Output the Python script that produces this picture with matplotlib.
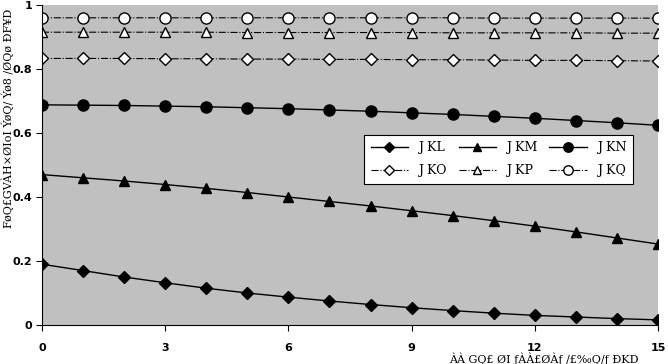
import matplotlib
matplotlib.use("Agg")
import matplotlib.pyplot as plt

# DATA
x = list(range(16))
s1 = [0.190, 0.170, 0.150, 0.132, 0.115, 0.100, 0.087, 0.075, 0.064, 0.054, 0.045, 0.037, 0.030, 0.025, 0.020, 0.016]
s2 = [0.470, 0.460, 0.450, 0.439, 0.427, 0.414, 0.400, 0.386, 0.372, 0.357, 0.342, 0.326, 0.309, 0.291, 0.272, 0.253]
s3 = [0.688, 0.687, 0.686, 0.684, 0.682, 0.679, 0.676, 0.672, 0.668, 0.663, 0.658, 0.652, 0.646, 0.639, 0.632, 0.624]
s4 = [0.833, 0.833, 0.833, 0.832, 0.832, 0.831, 0.831, 0.830, 0.830, 0.829, 0.829, 0.828, 0.827, 0.827, 0.826, 0.825]
s5 = [0.915, 0.915, 0.915, 0.915, 0.915, 0.914, 0.914, 0.914, 0.914, 0.914, 0.913, 0.913, 0.913, 0.913, 0.912, 0.912]
s6 = [0.960, 0.960, 0.960, 0.960, 0.960, 0.960, 0.960, 0.960, 0.960, 0.960, 0.960, 0.959, 0.959, 0.959, 0.959, 0.959]
labels = ["J KL", "J KM", "J KN", "J KO", "J KP", "J KQ"]
x_ticks = [0, 3, 6, 9, 12, 15]
y_ticks = [0, 0.2, 0.4, 0.6, 0.8, 1]
y_tick_labels = ["0", "0.2", "0.4", "0.6", "0.8", "1"]
x_label = "ÀÀ GQ£ ØI ƒÀÀ£ØÀƒ /£‰Q/ƒ ÐKD"
y_label = "FøQ£GVÀH×ØIoI ÝøQ/ Ýø8 /ØQø ÐF¥D"

fig = plt.figure(figsize=(6.68, 3.64), dpi=100)
ax = fig.add_axes([42 / 668, 39 / 364, 616 / 668, 320 / 364])
ax.set_facecolor("#c0c0c0")

ax.plot(x, s1, "-", color="black", lw=1, marker="D", ms=6, mfc="black", mec="black", label=labels[0])
ax.plot(x, s2, "-", color="black", lw=1, marker="^", ms=7, mfc="black", mec="black", label=labels[1])
ax.plot(x, s3, "-", color="black", lw=1, marker="o", ms=8, mfc="black", mec="black", label=labels[2])
ax.plot(x, s4, "-.", color="black", lw=0.8, marker="D", ms=6, mfc="white", mec="black", label=labels[3])
ax.plot(x, s5, "-.", color="black", lw=0.8, marker="^", ms=7, mfc="white", mec="black", label=labels[4])
ax.plot(x, s6, "-.", color="black", lw=0.8, marker="o", ms=8, mfc="white", mec="black", label=labels[5])

ax.set_xlim(0, 15)
ax.set_ylim(0, 1)
ax.set_xticks(x_ticks)
ax.set_xticklabels([str(t) for t in x_ticks], fontweight="bold", fontsize=8)
ax.set_yticks(y_ticks)
ax.set_yticklabels(y_tick_labels, fontweight="bold", fontsize=8)
ax.tick_params(axis="x", direction="out", length=4, pad=9)
ax.tick_params(axis="y", direction="out", length=4, pad=3)
for side in ["top", "right"]:
    ax.spines[side].set_visible(False)

ax.text(0.968, -0.085, x_label, transform=ax.transAxes, ha="right", va="top",
        family="DejaVu Serif", fontsize=8)
fig.text(0.002, 0.675, y_label, rotation=90, ha="left", va="center",
         family="DejaVu Serif", fontsize=8)

handles, labs = ax.get_legend_handles_labels()
order = [0, 3, 1, 4, 2, 5]
leg = ax.legend([handles[i] for i in order], [labs[i] for i in order], ncol=3,
                loc="lower left", bbox_to_anchor=(0.513, 0.422, 0.456, 0.156), mode="expand",
                fancybox=False, framealpha=1, edgecolor="black",
                prop={"family": "DejaVu Serif", "size": 9}, handlelength=3,
                columnspacing=1.0, borderpad=0.5, labelspacing=0.8, markerscale=0.85)
leg.get_frame().set_linewidth(0.8)

fig.savefig("out.png", dpi=100)
